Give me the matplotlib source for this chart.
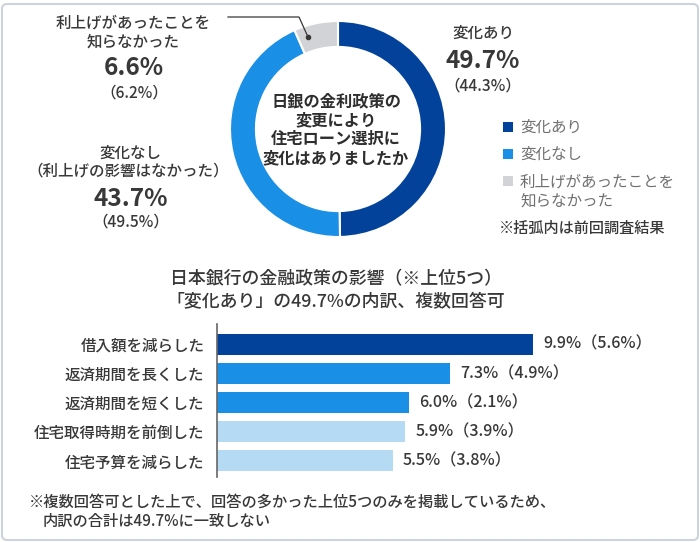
import matplotlib
matplotlib.use("Agg")
import matplotlib.pyplot as plt
from matplotlib.patches import FancyBboxPatch, Rectangle

plt.rcParams['font.family'] = ['Noto Sans CJK JP', 'DejaVu Sans']

# ---- data ----
pie_labels = ["変化あり", "変化なし", "利上げがあったことを\n知らなかった"]
pie_values = [49.7, 43.7, 6.6]
pie_prev = [44.3, 49.5, 6.2]
pie_colors = ["#03429B", "#1A8FE6", "#D2D3D7"]

bar_cats = ["借入額を減らした", "返済期間を長くした", "返済期間を短くした",
            "住宅取得時期を前倒した", "住宅予算を減らした"]
bar_values = [9.9, 7.3, 6.0, 5.9, 5.5]
bar_prev = [5.6, 4.9, 2.1, 3.9, 3.8]
bar_colors = ["#03429B", "#1A8FE6", "#1A8FE6", "#B5DAF3", "#B5DAF3"]

W, H = 700, 542
fig = plt.figure(figsize=(W / 100, H / 100), dpi=100)
fig.patch.set_facecolor("white")

def fx(x):
    return x / W

def fy(y):
    return 1 - y / H

TXT = "#383838"
FS = 11.2
MW = "medium"

# border
fig.patches.append(FancyBboxPatch((fx(2), fy(540)), fx(696), 536 / H,
                                  boxstyle="round,pad=0,rounding_size=0.008",
                                  transform=fig.transFigure, facecolor="none",
                                  edgecolor="#CDD3DB", linewidth=1.5))

# ---- donut ----
cx, cy, R = 338, 129, 108
axp = fig.add_axes([fx(cx - R), fy(cy + R), 2 * R / W, 2 * R / H])
axp.pie(pie_values, colors=pie_colors, startangle=90, counterclock=False,
        radius=1.0, wedgeprops=dict(width=0.24, edgecolor="white", linewidth=1.5))
axp.set_xlim(-1, 1)
axp.set_ylim(-1, 1)
axp.set_aspect("auto")
axp.axis("off")

center_lines = ["日銀の金利政策の", "変更により", "住宅ローン選択に", "変化はありましたか"]
for i, t in enumerate(center_lines):
    fig.text(fx(336), fy(101 + 19 * i), t, ha="center", va="center",
             fontsize=11.7, fontweight="bold", color="#2E2E2E")

# labels around donut
fig.text(fx(483), fy(33), pie_labels[0], ha="center", va="center", fontsize=FS,
         fontweight=MW, color=TXT)
fig.text(fx(483), fy(61), f"{pie_values[0]}%", ha="center", va="center",
         fontsize=17.5, fontweight="bold", color=TXT)
fig.text(fx(483), fy(86), f"（{pie_prev[0]}%）", ha="center", va="center", fontsize=FS,
         fontweight=MW, color=TXT)

fig.text(fx(133), fy(23), "利上げがあったことを", ha="center", va="center", fontsize=FS,
         fontweight=MW, color=TXT)
fig.text(fx(133), fy(42), "知らなかった", ha="center", va="center", fontsize=FS,
         fontweight=MW, color=TXT)
fig.text(fx(134), fy(68), f"{pie_values[2]}%", ha="center", va="center",
         fontsize=17.5, fontweight="bold", color=TXT)
fig.text(fx(134), fy(93), f"（{pie_prev[2]}%）", ha="center", va="center", fontsize=FS,
         fontweight=MW, color=TXT)

fig.text(fx(130), fy(153), "変化なし", ha="center", va="center", fontsize=FS,
         fontweight=MW, color=TXT)
fig.text(fx(128), fy(171), "（利上げの影響はなかった）", ha="center", va="center", fontsize=FS,
         fontweight=MW, color=TXT)
fig.text(fx(131), fy(199), f"{pie_values[1]}%", ha="center", va="center",
         fontsize=17.5, fontweight="bold", color=TXT)
fig.text(fx(131), fy(222), f"（{pie_prev[1]}%）", ha="center", va="center", fontsize=FS,
         fontweight=MW, color=TXT)

# leader line
fig.add_artist(plt.Line2D([fx(228), fx(299), fx(308)], [fy(17), fy(17), fy(37)],
                          transform=fig.transFigure, color=TXT, linewidth=0.9))
fig.add_artist(plt.Line2D([fx(308)], [fy(37)], transform=fig.transFigure,
                          marker="o", markersize=3, color=TXT))

# legend
leg_y = [127, 154, 181]
for i in range(3):
    fig.patches.append(Rectangle((fx(503), fy(leg_y[i] + 5)), 10 / W, 10 / H,
                                 transform=fig.transFigure, facecolor=pie_colors[i],
                                 edgecolor="none"))
LG = "#707070"
fig.text(fx(520), fy(127), "変化あり", ha="left", va="center", fontsize=FS, color=LG)
fig.text(fx(520), fy(154), "変化なし", ha="left", va="center", fontsize=FS, color=LG)
fig.text(fx(520), fy(182), "利上げがあったことを", ha="left", va="center", fontsize=FS, color=LG)
fig.text(fx(520), fy(201), "知らなかった", ha="left", va="center", fontsize=FS, color=LG)
fig.text(fx(499), fy(228), "※括弧内は前回調査結果", ha="left", va="center", fontsize=10.9,
         fontweight=MW, color=TXT)

# ---- bar chart ----
fig.text(fx(336), fy(279), "日本銀行の金融政策の影響（※上位5つ）", ha="center", va="center",
         fontsize=12.9, fontweight=MW, color=TXT)
fig.text(fx(336), fy(302), "「変化あり」の49.7%の内訳、複数回答可", ha="center", va="center",
         fontsize=12.9, fontweight=MW, color=TXT)

ax_l, ax_r = 217, 533
ax_t, ax_b = 324, 477
axb = fig.add_axes([fx(ax_l), fy(ax_b), (ax_r - ax_l) / W, (ax_b - ax_t) / H])
ypos = list(range(len(bar_cats)))
axb.barh(ypos, bar_values, height=0.72, color=bar_colors, edgecolor="none")
axb.set_xlim(0, max(bar_values))
axb.set_ylim(4.55, -0.7)
for s in ["top", "right", "bottom"]:
    axb.spines[s].set_visible(False)
axb.spines["left"].set_color("#666666")
axb.spines["left"].set_linewidth(1.2)
axb.set_xticks([])
axb.set_yticks(ypos)
axb.set_yticklabels(bar_cats, fontsize=FS, fontweight=MW, color=TXT)
axb.tick_params(axis="y", length=0, pad=9)
for i, (v, p) in enumerate(zip(bar_values, bar_prev)):
    axb.text(v + 0.33, i, f"{v}%（{p}%）", ha="left", va="center", fontsize=11.6,
             fontweight=MW, color=TXT, clip_on=False)

fig.text(fx(29), fy(502), "※複数回答可とした上で、回答の多かった上位5つのみを掲載しているため、",
         ha="left", va="center", fontsize=11.0, fontweight=MW, color=TXT)
fig.text(fx(43), fy(521), "内訳の合計は49.7%に一致しない", ha="left", va="center",
         fontsize=11.0, fontweight=MW, color=TXT)

fig.savefig("out.png", dpi=100, facecolor="white")
